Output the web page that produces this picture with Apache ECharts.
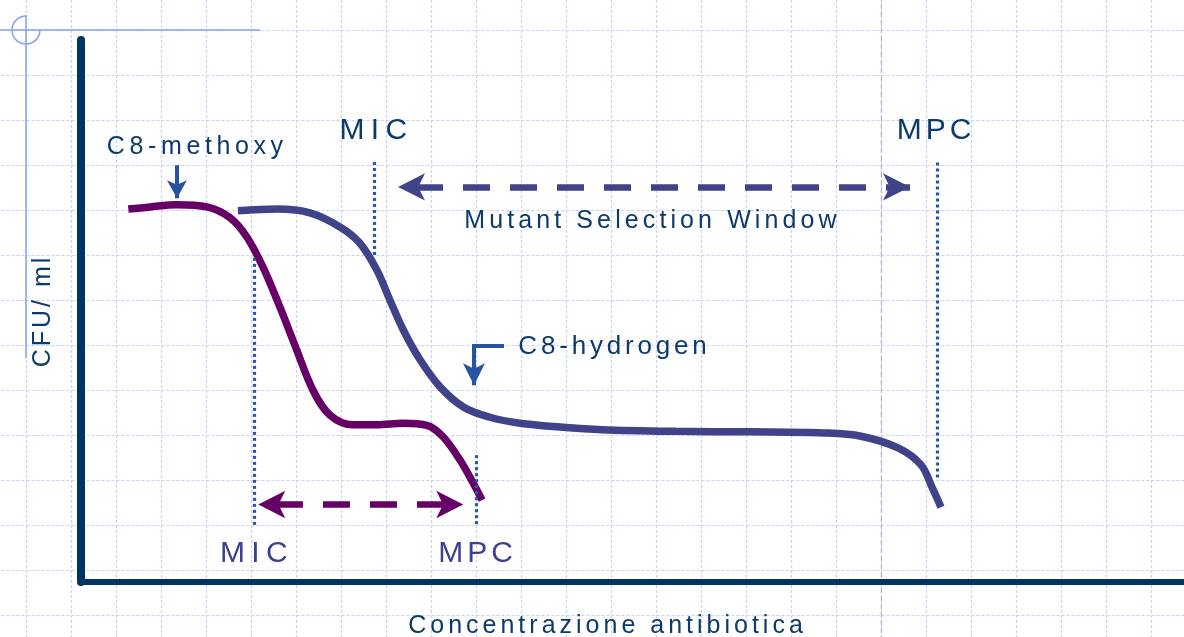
<!DOCTYPE html>
<html>
<head>
<meta charset="utf-8">
<script src="https://cdn.jsdelivr.net/npm/echarts@6/dist/echarts.min.js"></script>
<style>
html, body { margin: 0; padding: 0; background: #ffffff; }
#chart { width: 1184px; height: 637px; }
</style>
</head>
<body>
<div id="chart"></div>
<script>
// ---------------- DATA (concentration in arbitrary units, CFU in log units) ----------------
const methoxyConc = [4.29, 6.26, 8.68, 11.40, 13.51, 15.02, 16.50, 18.04, 19.56, 21.03, 22.57, 24.66, 26.84, 29.19, 31.37, 32.82, 34.36, 35.54, 36.36];
const methoxyCfu  = [6.88, 6.92, 6.96, 6.92, 6.72, 6.37, 5.81, 5.07, 4.28, 3.54, 3.08, 2.90, 2.90, 2.93, 2.89, 2.68, 2.25, 1.83, 1.51];

const hydrogenConc = [14.23, 17.77, 20.76, 23.48, 25.29, 26.81, 28.01, 29.22, 30.74, 32.55, 34.66, 37.08, 39.80, 43.43, 47.23, 53.94, 60.65, 67.36, 70.72, 74.12, 76.16, 77.15, 77.97];
const hydrogenCfu  = [6.85, 6.88, 6.81, 6.55, 6.25, 5.76, 5.20, 4.65, 4.10, 3.60, 3.23, 3.04, 2.93, 2.86, 2.81, 2.78, 2.77, 2.75, 2.69, 2.47, 2.16, 1.75, 1.38];

// MIC / MPC guide lines: concentration, top, bottom
const methoxyGuideX = [15.73, 35.87];
const methoxyGuideTop = [5.98, 2.34];
const methoxyGuideBottom = [1.04, 1.04];
const hydrogenGuideX = [26.56, 77.61];
const hydrogenGuideTop = [7.75, 7.74];
const hydrogenGuideBottom = [6.00, 1.88];

// Selection-window arrows: [from, to] concentration, level
const methoxyWindow = [16.07, 34.66];
const methoxyWindowLevel = 1.43;
const hydrogenWindow = [28.74, 75.16];
const hydrogenWindowLevel = 7.29;

// pointer arrows
const methoxyPointerX = 8.70;
const methoxyPointerY = [7.69, 7.08];
const hydrogenPointerX = [35.45, 38.35];
const hydrogenPointerStemX = 35.63;
const hydrogenPointerY = [4.35, 3.63];

// annotation texts and anchors
const labelText = ['C8-methoxy', 'MIC', 'MPC', 'Mutant Selection Window', 'C8-hydrogen', 'MIC', 'MPC'];
const labelX = [10.54, 26.79, 77.52, 51.81, 48.36, 15.95, 35.95];
const labelY = [8.02, 8.33, 8.32, 6.66, 4.34, 0.52, 0.52];

const xAxisName = 'Concentrazione antibiotica';
const yAxisName = 'CFU/ ml';

// background paper grid
const paperCols = 28;
const paperRows = 16;
const paperMarkCol = [20];

// ---------------- STYLES ----------------
const FONT = '"Liberation Sans", Arial, Helvetica, sans-serif';
const NAVY_TEXT = '#0b3a6b';
const AXIS = '#003366';
const PURPLE = '#660066';
const NAVY = '#404389';
const POINTER = '#2853a0';
const GUIDE = '#2a56a8';
const LOWER_TEXT = '#3d3f8f';
const labelFont = [25, 30, 30, 25, 26, 30, 30];
const labelColor = [NAVY_TEXT, NAVY_TEXT, NAVY_TEXT, NAVY_TEXT, NAVY_TEXT, LOWER_TEXT, LOWER_TEXT];

// letter spacing, as in the original slide
const spacingByText = {
  'C8-methoxy': 4.6, 'MIC': 6.3, 'MPC': 4, 'Mutant Selection Window': 4.1,
  'C8-hydrogen': 3.8, 'Concentrazione antibiotica': 4, 'CFU/ ml': 3
};
(function () {
  const proto = CanvasRenderingContext2D.prototype;
  const orig = proto.fillText;
  proto.fillText = function (text, x, y, maxWidth) {
    const s = spacingByText[text];
    if (s != null && 'letterSpacing' in this) {
      const prev = this.letterSpacing;
      this.letterSpacing = s + 'px';
      if (maxWidth === undefined) orig.call(this, text, x, y); else orig.call(this, text, x, y, maxWidth);
      this.letterSpacing = prev;
      return;
    }
    if (maxWidth === undefined) return orig.call(this, text, x, y);
    return orig.call(this, text, x, y, maxWidth);
  };
})();

// ---------------- BUILD ----------------
const zip = (a, b) => a.map((v, i) => [v, b[i]]);

function guide(x, top, bottom) {
  return [
    { coord: [x, top], symbol: 'none', lineStyle: { color: GUIDE, width: 3.2, type: [3, 3] } },
    { coord: [x, bottom], symbol: 'none' }
  ];
}
function windowArrow(range, level, color, offset) {
  return [
    { coord: [range[0], level], symbol: 'arrow', symbolSize: [20.5, 27],
      lineStyle: { color: color, width: 6.5, type: [27, 20], dashOffset: offset } },
    { coord: [range[1], level], symbol: 'arrow', symbolSize: [20.5, 27] }
  ];
}

const methoxyMarks = [];
methoxyGuideX.forEach((x, i) => methoxyMarks.push(guide(x, methoxyGuideTop[i], methoxyGuideBottom[i])));
methoxyMarks.push(windowArrow(methoxyWindow, methoxyWindowLevel, PURPLE, 29.3));
methoxyMarks.push([
  { coord: [methoxyPointerX, methoxyPointerY[0]], symbol: 'none', lineStyle: { color: POINTER, width: 4, type: 'solid' } },
  { coord: [methoxyPointerX, methoxyPointerY[1]], symbol: 'arrow', symbolSize: [15, 18] }
]);

const hydrogenMarks = [];
hydrogenGuideX.forEach((x, i) => hydrogenMarks.push(guide(x, hydrogenGuideTop[i], hydrogenGuideBottom[i])));
hydrogenMarks.push(windowArrow(hydrogenWindow, hydrogenWindowLevel, NAVY, 29));
hydrogenMarks.push([
  { coord: [hydrogenPointerX[0], hydrogenPointerY[0]], symbol: 'none', lineStyle: { color: POINTER, width: 4, type: 'solid' } },
  { coord: [hydrogenPointerX[1], hydrogenPointerY[0]], symbol: 'none' }
]);
hydrogenMarks.push([
  { coord: [hydrogenPointerStemX, hydrogenPointerY[0]], symbol: 'none', lineStyle: { color: POINTER, width: 4, type: 'solid' } },
  { coord: [hydrogenPointerStemX, hydrogenPointerY[1]], symbol: 'arrow', symbolSize: [16.5, 22] }
]);

const labelData = labelText.map((t, i) => ({
  name: t,
  value: [labelX[i], labelY[i]],
  label: { fontSize: labelFont[i], color: labelColor[i] }
}));

const markLineBase = { silent: true, animation: false, label: { show: false }, emphasis: { disabled: true } };

const option = {
  animation: false,
  backgroundColor: '#ffffff',
  textStyle: { fontFamily: FONT },
  grid: [
    { left: 81, right: 0, top: 40, bottom: 55, containLabel: false, outerBoundsMode: 'none' },
    { left: -18.6, top: -15, width: 45 * paperCols, height: 45 * paperRows, containLabel: false, outerBoundsMode: 'none' }
  ],
  xAxis: [
    {
      type: 'value', gridIndex: 0, min: 0, max: 100, z: 5,
      axisLine: { show: true, onZero: false, lineStyle: { color: AXIS, width: 6, cap: 'square' } },
      axisTick: { show: false }, axisLabel: { show: false }, splitLine: { show: false },
      name: xAxisName, nameLocation: 'middle', nameGap: 31.5,
      nameTextStyle: { fontSize: 25, color: NAVY_TEXT, fontFamily: FONT, padding: [0, 50, 0, 0] }
    },
    {
      type: 'value', gridIndex: 1, min: 0, max: paperCols, interval: 1, z: 0,
      axisLine: { show: false }, axisTick: { show: false }, axisLabel: { show: false },
      splitLine: { show: true, lineStyle: { color: '#c6d2f7', width: 1.2, type: [3, 2] } }
    }
  ],
  yAxis: [
    {
      type: 'value', gridIndex: 0, min: 0, max: 10, z: 5,
      axisLine: { show: true, onZero: false, lineStyle: { color: AXIS, width: 8 } },
      axisTick: { show: false }, axisLabel: { show: false }, splitLine: { show: false },
      name: yAxisName, nameLocation: 'middle', nameRotate: 90, nameGap: 25,
      nameTextStyle: { fontSize: 25, color: NAVY_TEXT, fontFamily: FONT }
    },
    {
      type: 'value', gridIndex: 1, min: 0, max: paperRows, interval: 1, z: 0,
      axisLine: { show: false }, axisTick: { show: false }, axisLabel: { show: false },
      splitLine: { show: true, lineStyle: { color: '#c6d2f7', width: 1.2, type: [3, 2] } }
    }
  ],
  graphic: [
    { type: 'line', z: 1, shape: { x1: 0, y1: 30, x2: 260, y2: 30 }, style: { stroke: '#86a0f4', lineWidth: 1.5 } },
    { type: 'line', z: 1, shape: { x1: 26, y1: 15, x2: 26, y2: 358 }, style: { stroke: '#86a0f4', lineWidth: 1.5 } },
    { type: 'arc', z: 1, shape: { cx: 26, cy: 30, r: 14, startAngle: 0, endAngle: Math.PI * 1.5, clockwise: true },
      style: { stroke: '#86a0f4', fill: null, lineWidth: 1.5 } }
  ],
  series: [
    {
      name: 'paper-mark', type: 'line', xAxisIndex: 1, yAxisIndex: 1, z: 1, silent: true,
      symbol: 'none',
      data: [[paperMarkCol[0], 0], [paperMarkCol[0], paperRows]],
      lineStyle: { color: '#b3b6c6', width: 1.2, type: [5, 3] }
    },
    {
      name: 'C8-methoxy', type: 'line', xAxisIndex: 0, yAxisIndex: 0, z: 3,
      data: zip(methoxyConc, methoxyCfu), smooth: 0.35, symbol: 'none',
      color: PURPLE, lineStyle: { color: PURPLE, width: 7.5, cap: 'butt' },
      markLine: Object.assign({ data: methoxyMarks }, markLineBase)
    },
    {
      name: 'C8-hydrogen', type: 'line', xAxisIndex: 0, yAxisIndex: 0, z: 3,
      data: zip(hydrogenConc, hydrogenCfu), smooth: 0.35, symbol: 'none',
      color: NAVY, lineStyle: { color: NAVY, width: 7.5, cap: 'butt' },
      markLine: Object.assign({ data: hydrogenMarks }, markLineBase)
    },
    {
      name: 'labels', type: 'scatter', xAxisIndex: 0, yAxisIndex: 0, z: 6, silent: true,
      symbolSize: 0, data: labelData, itemStyle: { color: 'transparent', opacity: 1 },
      label: { show: true, position: 'inside', formatter: '{b}', fontFamily: FONT, opacity: 1,
               textBorderWidth: 0, textBorderColor: 'transparent', textShadowBlur: 0 }
    }
  ]
};

const chart = echarts.init(document.getElementById('chart'), null, { renderer: 'canvas' });
chart.setOption(option);
</script>
</body>
</html>
